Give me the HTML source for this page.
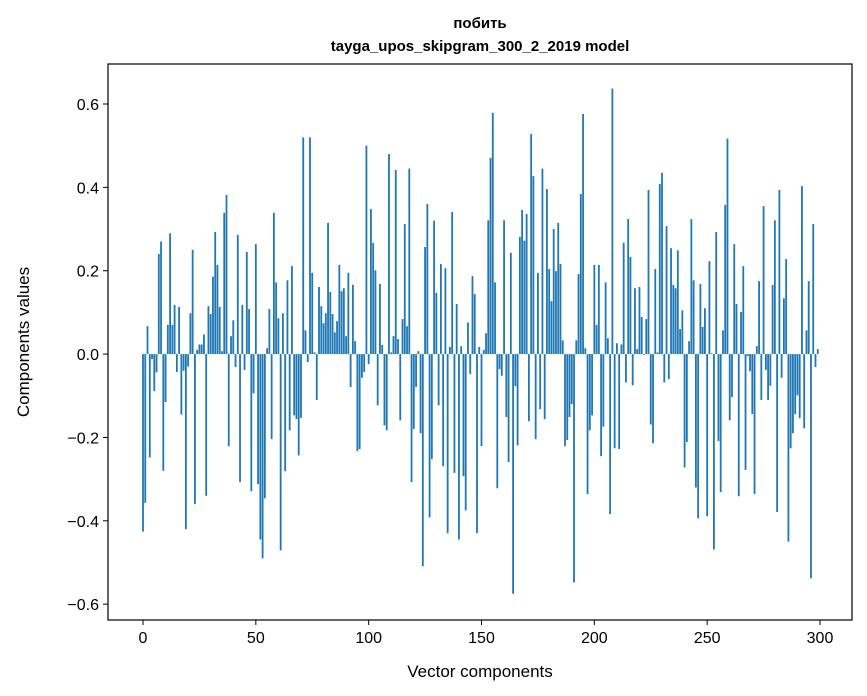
<!DOCTYPE html>
<html><head><meta charset="utf-8"><style>
html,body{margin:0;padding:0;background:#fff;}
svg{display:block;font-family:"Liberation Sans","DejaVu Sans",sans-serif;}
</style></head><body>
<svg id="chart" width="867" height="696" viewBox="0 0 867 696">
<text x="480" y="28" text-anchor="middle" font-size="15" font-weight="bold">побить</text>
<text x="480" y="51" text-anchor="middle" font-size="15" font-weight="bold">tayga_upos_skipgram_300_2_2019 model</text>
<g id="bars"></g>
<g id="axes"></g>
<rect x="108" y="64" width="744" height="556" fill="none" stroke="#000" stroke-width="1.2"/>
<text x="480" y="677" text-anchor="middle" font-size="17">Vector components</text>
<text transform="translate(29,342) rotate(-90)" text-anchor="middle" font-size="17">Components values</text>
</svg>
<script>
const values = [
-0.426,-0.357,0.067,-0.248,-0.012,-0.089,-0.044,0.24,0.27,-0.28,-0.115,0.07,0.29,0.07,0.118,-0.043,0.113,-0.145,-0.04,-0.42,-0.03,0.098,0.25,-0.36,0.01,
0.023,0.023,0.047,-0.34,0.115,0.096,0.186,0.293,0.214,0.113,0.007,0.339,0.382,-0.221,0.043,0.081,-0.031,0.286,-0.307,0.118,-0.038,0.245,0.108,-0.329,-0.094,
0.264,-0.312,-0.445,-0.49,-0.346,0.014,0.108,-0.204,0.339,0.172,0.086,-0.471,0.098,-0.281,0.177,-0.183,0.211,-0.147,-0.156,-0.243,-0.153,0.52,0.057,-0.019,0.52,
0.195,0.004,-0.11,0.161,0.115,0.074,0.098,0.315,0.149,0.096,0.052,0.079,0.214,0.151,0.158,0.043,0.195,-0.079,0.166,0.031,-0.233,-0.228,-0.057,-0.043,0.5,-0.024,
0.348,0.267,0.201,-0.123,0.168,0.022,-0.171,-0.183,0.48,0.004,0.043,0.442,0.036,-0.159,0.084,0.312,0.067,0.445,-0.307,-0.18,-0.079,0.007,-0.19,-0.509,0.257,
0.36,-0.392,-0.252,0.32,0.147,-0.123,0.216,-0.269,0.206,-0.43,0.017,0.341,-0.285,0.12,-0.445,0.019,-0.293,-0.375,0.076,-0.048,0.187,0.144,-0.43,0.017,-0.221,
0.01,0.05,0.321,0.471,0.579,0.172,-0.322,-0.036,-0.052,0.321,-0.151,-0.259,0.243,-0.575,-0.077,-0.219,0.281,0.346,0.272,0.336,-0.161,0.528,0.427,-0.204,0.195,
-0.132,0.445,-0.156,0.396,0.204,0.127,0.3,0.199,0.315,0.216,0.033,-0.221,-0.206,-0.151,-0.12,-0.548,0.033,0.192,0.384,0.576,0.014,-0.336,-0.183,-0.147,0.214,0.07,
0.214,-0.245,-0.174,0.172,0.038,-0.384,0.637,-0.226,0.026,-0.228,0.023,0.267,-0.068,0.324,0.233,-0.075,0.158,0.012,0.161,0.089,-0.002,0.084,0.394,-0.169,-0.214,
0.204,0.004,0.408,0.435,-0.068,0.307,-0.06,0.254,0.166,0.158,0.249,0.06,0.105,-0.272,-0.211,0.031,0.324,0.177,-0.32,-0.394,0.168,0.065,0.11,-0.389,0.223,
0.002,-0.469,0.293,-0.209,-0.331,0.057,0.358,0.517,-0.159,-0.103,0.264,0.12,-0.341,0.101,0.211,-0.278,-0.005,-0.041,-0.144,-0.336,0.019,0.175,-0.11,0.355,-0.038,-0.11,
-0.076,0.166,0.321,-0.379,0.394,-0.057,0.134,0.228,-0.45,-0.226,-0.19,-0.144,-0.099,-0.154,0.403,-0.178,0.057,0.175,-0.538,0.312,-0.031,0.012
];
const xTicks = [0,50,100,150,200,250,300];
const yTicks = [-0.6,-0.4,-0.2,0.0,0.2,0.4,0.6];
const yTickLabels = ["\u22120.6","\u22120.4","\u22120.2","0.0","0.2","0.4","0.6"];

const NS="http://www.w3.org/2000/svg";
const L=108,R=852,T=64,B=620;
const xMin=-15.51,xMax=314.18,yMin=-0.638,yMax=0.696;
function xs(v){return L+(v-xMin)/(xMax-xMin)*(R-L);}
function ys(v){return B-(v-yMin)/(yMax-yMin)*(B-T);}
const bars=document.getElementById('bars');
values.forEach((v,i)=>{
  const r=document.createElementNS(NS,'rect');
  const x0=xs(i-0.4),x1=xs(i+0.4);
  const y0=ys(Math.max(v,0)),y1=ys(Math.min(v,0));
  r.setAttribute('x',x0);r.setAttribute('width',x1-x0);
  r.setAttribute('y',y0);r.setAttribute('height',Math.max(y1-y0,0.3));
  r.setAttribute('fill','#1f77b4');
  
  
  bars.appendChild(r);
});
const axes=document.getElementById('axes');
xTicks.forEach(t=>{
  const x=xs(t);
  const l=document.createElementNS(NS,'line');
  l.setAttribute('x1',x);l.setAttribute('x2',x);l.setAttribute('y1',B);l.setAttribute('y2',B+5);
  l.setAttribute('stroke','#000');
  
  
  axes.appendChild(l);
  const tx=document.createElementNS(NS,'text');
  tx.setAttribute('x',x);tx.setAttribute('y',B+23);tx.setAttribute('text-anchor','middle');tx.setAttribute('font-size','16');
  tx.textContent=String(t);
  
  
  axes.appendChild(tx);
});
yTicks.forEach((t,k)=>{
  const y=ys(t);
  const l=document.createElementNS(NS,'line');
  l.setAttribute('x1',L-5);l.setAttribute('x2',L);l.setAttribute('y1',y);l.setAttribute('y2',y);
  l.setAttribute('stroke','#000');
  
  
  axes.appendChild(l);
  const tx=document.createElementNS(NS,'text');
  tx.setAttribute('x',L-9);tx.setAttribute('y',y+6);tx.setAttribute('text-anchor','end');tx.setAttribute('font-size','16');
  tx.textContent=yTickLabels[k];
  
  
  axes.appendChild(tx);
});
</script>
</body></html>
